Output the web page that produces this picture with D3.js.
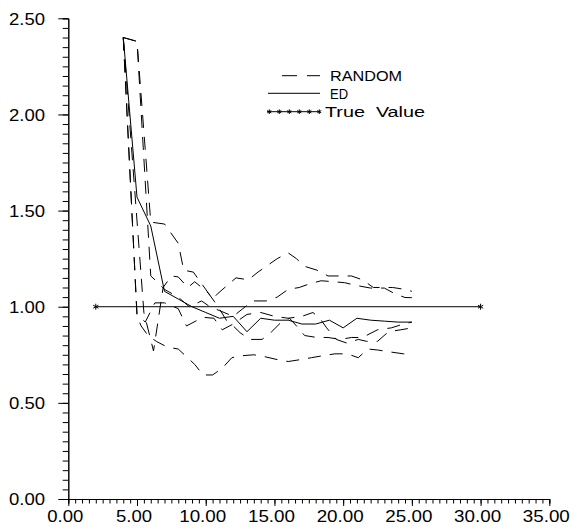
<!DOCTYPE html>
<html>
<head>
<meta charset="utf-8">
<script src="https://cdn.jsdelivr.net/npm/d3@7"></script>
<style>
  html, body { margin: 0; padding: 0; background: #fff; }
  svg { display: block; }
  text { font-family: "Liberation Sans", Arial, sans-serif; fill: #000; }
</style>
</head>
<body>
<svg id="chart" width="573" height="529"></svg>
<script>
// Axis tick values
const xMajorTicks = [0, 5, 10, 15, 20, 25, 30, 35];
const yMajorTicks = [0, 0.5, 1.0, 1.5, 2.0, 2.5];

// ED estimate by sample size
const edSeries = [
  [4, 2.40], [5, 1.57], [6, 1.42], [7, 1.08], [8, 1.04], [9, 1.00], [10, 0.97],
  [11, 0.94], [12, 0.95], [13, 0.87], [14, 0.94], [15, 0.93], [16, 0.93],
  [17, 0.91], [18, 0.91], [19, 0.93], [20, 0.89], [21, 0.94], [22, 0.93],
  [23, 0.925], [24, 0.92], [25, 0.92]
];

// RANDOM runs
const randomRun1 = [
  [4, 2.40], [5, 2.38], [6, 1.44], [7, 1.43], [8, 1.33], [8.4, 1.19], [9.1, 1.18],
  [10.5, 1.04], [10.9, 1.07], [12.2, 1.15], [13.1, 1.14], [13.8, 1.18], [15.2, 1.25],
  [16, 1.28], [16.6, 1.25], [17.2, 1.21], [18.1, 1.19], [18.9, 1.16], [20.6, 1.16],
  [21.4, 1.14], [22.2, 1.10], [23.6, 1.10], [24.5, 1.09], [25, 1.08]
];
const randomRun2 = [
  [4, 2.40], [5, 2.38], [6, 1.16], [6.6, 1.12], [7, 1.09], [8, 1.05], [8.8, 1.00],
  [9.7, 1.03], [10.3, 1.00], [11, 0.98], [12, 0.95], [12.7, 0.99], [13.4, 1.03],
  [14.4, 1.03], [15.2, 1.05], [16, 1.09], [16.8, 1.10], [17.6, 1.12], [18.4, 1.135],
  [19.3, 1.13], [20.1, 1.125], [21, 1.11], [22, 1.097], [23, 1.097], [23.8, 1.066],
  [24.5, 1.048], [25, 1.047]
];
const randomRun3 = [
  [4, 2.40], [5.5, 0.97], [6.2, 0.77], [6.9, 1.10], [7.5, 1.16], [8, 1.155], [8.7, 1.10],
  [9.2, 1.13], [10.2, 1.07], [10.9, 1.00], [11.5, 0.93], [12, 0.90], [12.5, 0.865],
  [13.2, 0.83], [14.1, 0.83], [14.8, 0.87], [15.5, 0.92], [16.1, 0.94], [16.6, 0.90],
  [17.2, 0.85], [18.1, 0.84], [18.9, 0.84], [19.8, 0.83], [20.6, 0.84], [21.4, 0.84],
  [22.5, 0.88], [23.5, 0.89], [24.4, 0.91], [25, 0.92]
];
const randomRun4 = [
  [4, 2.40], [5, 0.96], [5.6, 0.92], [6.3, 1.02], [7, 1.02], [8, 0.99], [8.6, 0.90],
  [9.8, 0.945], [10.6, 0.94], [11.2, 0.88], [12, 0.91], [13, 0.96], [14, 0.97],
  [15, 0.95], [16, 0.94], [17, 0.95], [17.8, 0.97], [18.3, 0.94], [18.8, 0.89],
  [19.5, 0.83], [20.3, 0.81], [21.1, 0.83], [21.7, 0.82], [22.5, 0.82], [23.3, 0.87],
  [24.2, 0.88], [25, 0.89]
];
const randomRun5 = [
  [4, 2.40], [5, 0.95], [5.3, 0.90], [5.8, 0.85], [6.4, 0.82], [7.2, 0.79], [8, 0.78],
  [8.6, 0.74], [9.2, 0.70], [9.8, 0.645], [10.5, 0.645], [11.2, 0.68], [11.9, 0.735],
  [12.6, 0.745], [13.5, 0.75], [14.3, 0.74], [15.2, 0.725], [16, 0.715], [16.9, 0.725],
  [17.7, 0.735], [18.5, 0.745], [19.4, 0.755], [20.3, 0.755], [21.1, 0.735],
  [21.8, 0.78], [22.5, 0.775], [23.4, 0.765], [24.4, 0.755], [25, 0.75]
];
const randomRuns = [randomRun1, randomRun2, randomRun3, randomRun4, randomRun5];

// True parameter value
const trueValueSeries = [[2, 1.0], [30, 1.0]];

// Legend entries
const legendLabels = ["RANDOM", "ED", "True  Value"];

const svg = d3.select("#chart");

const x = d3.scaleLinear().domain([0, 35]).range([68.3, 549.3]);
const y = d3.scaleLinear().domain([0, 2.5]).range([499, 18.3]);

const fmt = d3.format(".2f");

// ---- axes ----
function styleAxis(g) {
  g.selectAll("path, line").attr("stroke", "#000").attr("stroke-width", 1);
}

// x minor ticks every 0.5
svg.append("g")
  .attr("transform", `translate(0,${y(0)})`)
  .call(d3.axisBottom(x).tickValues(d3.range(0, 35.001, 0.5)).tickSize(4.5).tickFormat(""))
  .call(styleAxis);

// x major ticks with labels
const gx = svg.append("g")
  .attr("transform", `translate(0,${y(0)})`)
  .call(d3.axisBottom(x).tickValues(xMajorTicks).tickSize(7).tickSizeOuter(0).tickFormat(fmt))
  .call(styleAxis);
gx.selectAll("text")
  .attr("y", 23.3).attr("dy", null)
  .attr("x", -3.5)
  .attr("font-size", 16)
  .attr("textLength", d => fmt(d).length > 4 ? 47 : 36)
  .attr("lengthAdjust", "spacingAndGlyphs")
  .attr("font-family", "Liberation Sans, Arial, sans-serif");

// y minor ticks every 0.05
svg.append("g")
  .attr("transform", `translate(${x(0)},0)`)
  .call(d3.axisLeft(y).tickValues(d3.range(0, 2.5001, 0.05)).tickSize(5.6).tickFormat(""))
  .call(styleAxis);

// y major ticks with labels
const gy = svg.append("g")
  .attr("transform", `translate(${x(0)},0)`)
  .call(d3.axisLeft(y).tickValues(yMajorTicks).tickSize(10).tickSizeOuter(0).tickFormat(fmt))
  .call(styleAxis);
gy.selectAll("text")
  .attr("x", -23.3).attr("dy", "0.37em")
  .attr("font-size", 16)
  .attr("textLength", 36)
  .attr("lengthAdjust", "spacingAndGlyphs")
  .attr("font-family", "Liberation Sans, Arial, sans-serif");

// ---- series ----
const line = d3.line().x(d => x(d[0])).y(d => y(d[1]));
const plot = svg.append("g").attr("fill", "none").attr("stroke", "#000").attr("stroke-width", 1);

plot.selectAll("path.random")
  .data(randomRuns)
  .join("path")
  .attr("class", "random")
  .attr("d", line)
  .attr("stroke-dasharray", "13,9");

plot.append("path").datum(edSeries).attr("d", line);

plot.append("path").datum(trueValueSeries).attr("d", line);

// asterisk marker
function star(g, cx, cy, r) {
  const p = d3.path();
  for (let k = 0; k < 3; k++) {
    const a = Math.PI / 2 + k * Math.PI / 3;
    p.moveTo(cx - r * Math.cos(a), cy - r * Math.sin(a));
    p.lineTo(cx + r * Math.cos(a), cy + r * Math.sin(a));
  }
  g.append("path").attr("d", p.toString()).attr("stroke", "#000").attr("stroke-width", 1).attr("fill", "none");
}
trueValueSeries.forEach(d => star(svg, x(d[0]), y(d[1]), 3));

// ---- legend ----
const lg = svg.append("g");
lg.append("line").attr("x1", 282).attr("x2", 320).attr("y1", 75.7).attr("y2", 75.7)
  .attr("stroke", "#000").attr("stroke-dasharray", "15,10");
lg.append("line").attr("x1", 268).attr("x2", 320).attr("y1", 93.3).attr("y2", 93.3)
  .attr("stroke", "#000");
lg.append("line").attr("x1", 267).attr("x2", 320).attr("y1", 111.7).attr("y2", 111.7)
  .attr("stroke", "#000");
d3.range(6).forEach(i => star(lg, 269.3 + i * 10, 111.7, 2.3));

const legendPos = [[330, 80.7, 72], [330, 99.3, 18], [325, 117.3, 100]];
lg.selectAll("text")
  .data(legendLabels)
  .join("text")
  .attr("x", (d, i) => legendPos[i][0])
  .attr("y", (d, i) => legendPos[i][1])
  .attr("font-size", 14)
  .attr("textLength", (d, i) => legendPos[i][2])
  .attr("lengthAdjust", "spacingAndGlyphs")
  .style("white-space", "pre")
  .text(d => d);
</script>
</body>
</html>
